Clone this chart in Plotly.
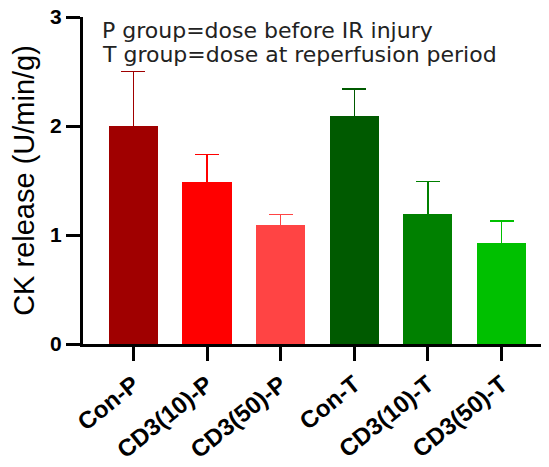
import plotly.graph_objects as go

categories = ["Con-P", "CD3(10)-P", "CD3(50)-P", "Con-T", "CD3(10)-T", "CD3(50)-T"]
means = [2.0, 1.49, 1.09, 2.09, 1.19, 0.93]
sems = [0.50, 0.25, 0.10, 0.25, 0.30, 0.20]
colors = ["#A00000", "#FF0000", "#FF4444", "#005A00", "#008000", "#00C000"]
y_ticks = [0, 1, 2, 3]
note_lines = ["P group=dose before IR injury", "T group=dose at reperfusion period"]
y_title = "CK release (U/min/g)"

# page body has an 8px margin; figure sized to fill the remaining window
W, H = 541, 459
ML, MR, MT, MB = 75, 0, 9, 123

fig = go.Figure()
# error bars (drawn first, lower half hidden by the bars drawn on top)
for i, (c, m, s, col) in enumerate(zip(categories, means, sems, colors)):
    fig.add_trace(go.Bar(
        x=[i], y=[m], width=0.666,
        marker=dict(color=col, line=dict(width=0)),
        error_y=dict(type="data", symmetric=True, array=[s],
                     color=col, thickness=1.5, width=12),
        showlegend=False, name=c, hoverinfo="skip",
    ))
for i, (c, m, col) in enumerate(zip(categories, means, colors)):
    fig.add_trace(go.Bar(
        x=[i], y=[m], width=0.666,
        marker=dict(color=col, line=dict(width=0)),
        showlegend=False, name=c,
    ))

font_main = "Liberation Sans, Arial, sans-serif"
fig.update_layout(
    width=W, height=H,
    margin=dict(l=ML, r=MR, t=MT, b=MB, pad=0),
    paper_bgcolor="white", plot_bgcolor="white",
    barmode="overlay", bargap=0,
    xaxis=dict(
        range=[-0.684, 5.644],
        tickmode="array", tickvals=list(range(len(categories))), ticktext=categories,
        tickangle=-39,
        tickfont=dict(family=font_main, size=24, color="black", weight="bold"),
        ticks="outside", ticklen=14, tickwidth=3, tickcolor="black",
        showline=True, linewidth=3, linecolor="black",
        showgrid=False, zeroline=False, fixedrange=True, automargin=False,
        ticklabeloverflow="allow",
    ),
    yaxis=dict(
        range=[0, 3],
        tickmode="array", tickvals=y_ticks, ticktext=[str(v) for v in y_ticks],
        tickfont=dict(family=font_main, size=21, color="black", weight="bold"),
        ticks="outside", ticklen=14, tickwidth=3, tickcolor="black",
        showline=True, linewidth=3, linecolor="black",
        showgrid=False, zeroline=False,
        title=dict(text=y_title, font=dict(family=font_main, size=29, color="black"), standoff=14),
        automargin=False, ticklabeloverflow="allow",
    ),
    font=dict(family=font_main),
)

note_font = dict(family="DejaVu Sans, Verdana, sans-serif", size=22, color="#222222")
fig.add_annotation(x=-0.457, y=2.88, xref="x", yref="y", text=note_lines[0],
                   showarrow=False, xanchor="left", yanchor="middle", font=note_font)
fig.add_annotation(x=-0.457, y=2.66, xref="x", yref="y", text=note_lines[1],
                   showarrow=False, xanchor="left", yanchor="middle", font=note_font)

fig.write_html("out.html")
